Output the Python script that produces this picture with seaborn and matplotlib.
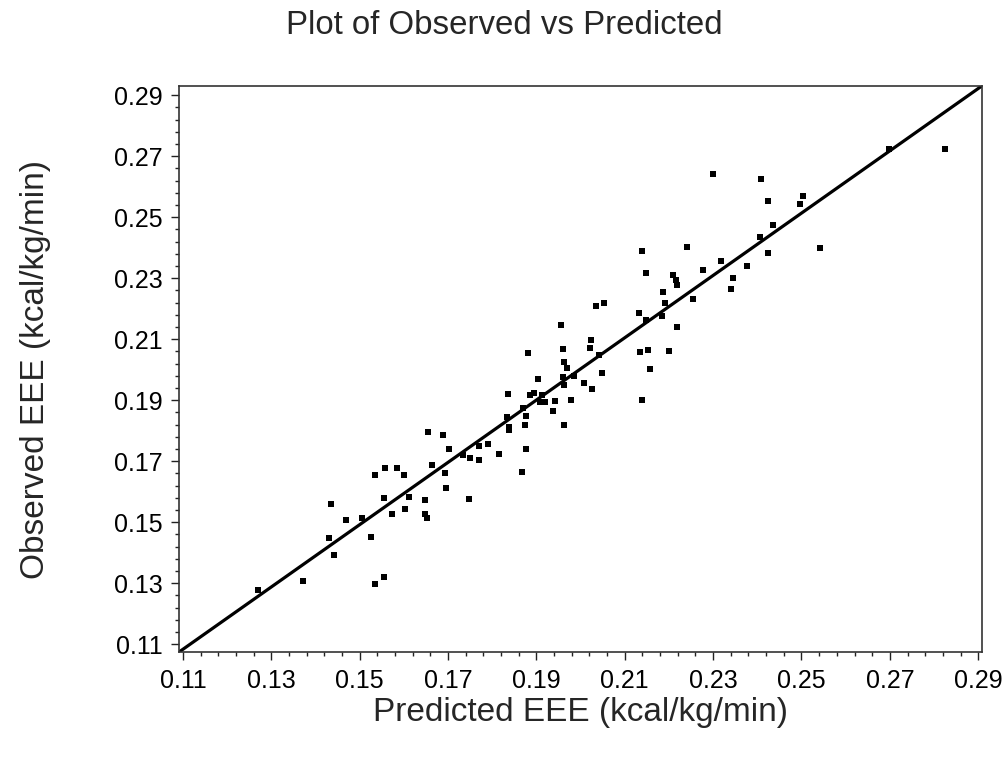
import numpy as np
import pandas as pd
import matplotlib
matplotlib.use("Agg")
import matplotlib.pyplot as plt
import seaborn as sns
from matplotlib.ticker import FixedLocator

# Data
predicted = [
    0.1655, 0.1663, 0.1535, 0.1557, 0.1584, 0.1601, 0.1435, 0.1556, 0.1612, 0.1648,
    0.1468, 0.1506, 0.1572, 0.1603, 0.1648, 0.1653, 0.1430, 0.1526, 0.1441, 0.1372,
    0.1555, 0.1535, 0.1269, 0.2034, 0.2052, 0.2191, 0.2132, 0.2148, 0.2185, 0.1955,
    0.1961, 0.2023, 0.2021, 0.1882, 0.2042, 0.2135, 0.2153, 0.2199, 0.1963, 0.1969,
    0.2156, 0.2048, 0.1904, 0.1960, 0.1986, 0.1963, 0.2007, 0.2026, 0.1836, 0.1886,
    0.1895, 0.1912, 0.1908, 0.1920, 0.1941, 0.1978, 0.2139, 0.1869, 0.1937, 0.1833,
    0.1877, 0.1839, 0.1839, 0.1874, 0.1963, 0.1689, 0.1703, 0.1733, 0.1771, 0.1790,
    0.1750, 0.1769, 0.1815, 0.1877, 0.1692, 0.1868, 0.1695, 0.1747, 0.2299, 0.2409,
    0.2424, 0.2504, 0.2497, 0.2436, 0.2406, 0.2424, 0.2541, 0.2138, 0.2240, 0.2318,
    0.2276, 0.2376, 0.2344, 0.2340, 0.2148, 0.2209, 0.2216, 0.2218, 0.2187, 0.2254,
    0.2218, 0.2699, 0.2824,
]
observed = [
    0.1796, 0.1687, 0.1654, 0.1676, 0.1676, 0.1654, 0.1558, 0.1580, 0.1583, 0.1574,
    0.1507, 0.1515, 0.1525, 0.1542, 0.1525, 0.1512, 0.1449, 0.1450, 0.1391, 0.1307,
    0.1321, 0.1296, 0.1279, 0.2208, 0.2219, 0.2219, 0.2186, 0.2162, 0.2175, 0.2148,
    0.2067, 0.2097, 0.2071, 0.2053, 0.2048, 0.2058, 0.2064, 0.2061, 0.2026, 0.2006,
    0.2001, 0.1988, 0.1968, 0.1976, 0.1979, 0.1951, 0.1955, 0.1936, 0.1919, 0.1916,
    0.1924, 0.1916, 0.1894, 0.1894, 0.1897, 0.1900, 0.1900, 0.1873, 0.1865, 0.1845,
    0.1849, 0.1812, 0.1802, 0.1818, 0.1818, 0.1785, 0.1739, 0.1720, 0.1749, 0.1756,
    0.1711, 0.1703, 0.1725, 0.1739, 0.1662, 0.1663, 0.1612, 0.1575, 0.2640, 0.2625,
    0.2553, 0.2570, 0.2543, 0.2474, 0.2435, 0.2381, 0.2399, 0.2390, 0.2401, 0.2356,
    0.2326, 0.2339, 0.2301, 0.2266, 0.2317, 0.2310, 0.2293, 0.2277, 0.2253, 0.2233,
    0.2140, 0.2723, 0.2723,
]
tick_values = [0.11, 0.13, 0.15, 0.17, 0.19, 0.21, 0.23, 0.25, 0.27, 0.29]
tick_labels = [f"{v:.2f}" for v in tick_values]

title = "Plot of Observed vs Predicted"
x_label = "Predicted EEE (kcal/kg/min)"
y_label = "Observed EEE (kcal/kg/min)"

df = pd.DataFrame({"Predicted": predicted, "Observed": observed})

sns.set_theme(style="white")
plt.rcParams["font.family"] = ["Liberation Sans", "DejaVu Sans"]

fig = plt.figure(figsize=(10.03, 7.58), dpi=100)
ax = fig.add_axes([0.1785, 0.1398, 0.8003, 0.7467])

sns.scatterplot(data=df, x="Predicted", y="Observed", ax=ax,
                marker="s", s=16, color="black", linewidth=0)

ax.set_xlim(0.1091, 0.2908)
ax.set_ylim(0.1074, 0.2930)

# reference line, corner to corner
ax.plot([0, 1], [0, 1], transform=ax.transAxes, color="black", lw=2.3,
        solid_capstyle="butt")

minor = np.arange(0.11, 0.2901, 0.004)
for axis in (ax.xaxis, ax.yaxis):
    axis.set_major_locator(FixedLocator(tick_values))
    axis.set_minor_locator(FixedLocator(minor))
ax.set_xticklabels(tick_labels)
ax.set_yticklabels(tick_labels)

ax.tick_params(which="major", direction="out", length=6, width=1,
               color="#222222", labelsize=18, labelcolor="black",
               bottom=True, left=True, pad=6)
ax.tick_params(which="minor", direction="out", length=3, width=1,
               color="#222222", bottom=True, left=True)

for sp in ax.spines.values():
    sp.set_color("#333333")
    sp.set_linewidth(1.2)

ax.set_xlabel(x_label, fontsize=24, va="center")
ax.set_ylabel(y_label, fontsize=24, va="center")
ax.xaxis.set_label_coords(0.5, -0.106)
ax.yaxis.set_label_coords(-0.179, 0.5)

fig.text(0.503, 0.967, title, ha="center", va="center", fontsize=23.8)

fig.savefig("out.png", dpi=100)
